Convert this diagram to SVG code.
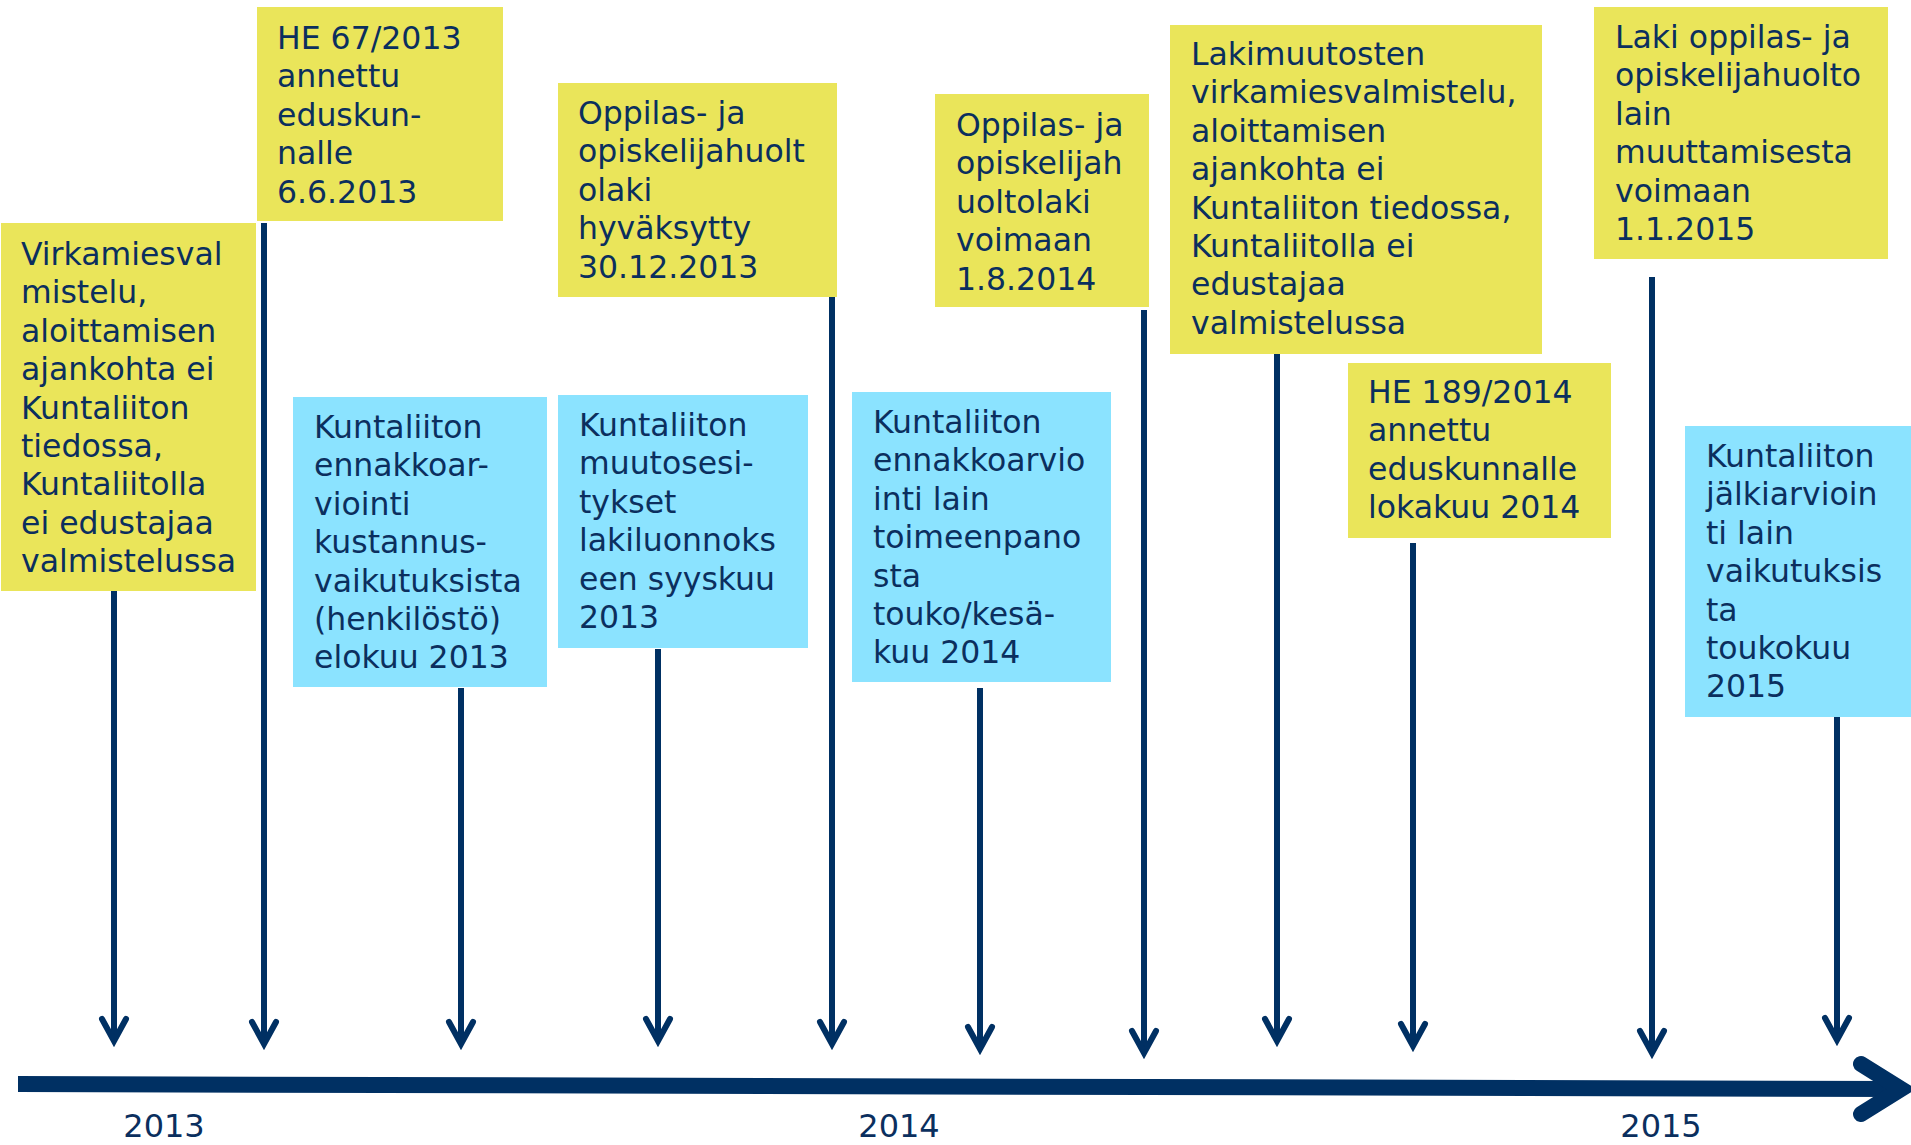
<svg xmlns="http://www.w3.org/2000/svg" width="1911" height="1145" viewBox="0 0 1911 1145">
<style>
.y{fill:#EAE55A}
.b{fill:#8BE3FF}
.t{font-family:"DejaVu Sans","Noto Sans",sans-serif;font-size:31.5px;fill:#0B2F5E}
.yr{font-family:"DejaVu Sans","Noto Sans",sans-serif;font-size:32px;fill:#0B2F5E;text-anchor:middle}
.c{stroke:#003063;stroke-width:6;fill:none;marker-end:url(#ah)}
</style>
<defs>
<marker id="ah" markerUnits="userSpaceOnUse" viewBox="-30 -20 40 40" markerWidth="40" markerHeight="40" refX="0" refY="0" orient="auto" overflow="visible">
<path d="M-22,-12 L0,0 L-22,12" fill="none" stroke="#003063" stroke-width="6" stroke-linecap="round" stroke-linejoin="miter"/>
</marker>
</defs>
<rect width="1911" height="1145" fill="#FFFFFF"/>

<g id="connectors">
<line class="c" x1="114" y1="591" x2="114" y2="1041"/>
<line class="c" x1="264" y1="223" x2="264" y2="1044"/>
<line class="c" x1="461" y1="688" x2="461" y2="1044"/>
<line class="c" x1="658" y1="649" x2="658" y2="1041"/>
<line class="c" x1="832" y1="297" x2="832" y2="1044"/>
<line class="c" x1="980" y1="688" x2="980" y2="1049"/>
<line class="c" x1="1144" y1="310" x2="1144" y2="1053"/>
<line class="c" x1="1277" y1="354" x2="1277" y2="1041"/>
<line class="c" x1="1413" y1="543" x2="1413" y2="1046"/>
<line class="c" x1="1652" y1="277" x2="1652" y2="1053"/>
<line class="c" x1="1837" y1="717" x2="1837" y2="1040"/>
</g>

<g id="timeline">
<line x1="18" y1="1084" x2="1900" y2="1089" stroke="#003063" stroke-width="16"/>
<polyline points="1861,1064 1901,1089 1861,1114" fill="none" stroke="#003063" stroke-width="16" stroke-linecap="round" stroke-linejoin="miter"/>
<text class="yr" x="164" y="1137">2013</text>
<text class="yr" x="899" y="1137">2014</text>
<text class="yr" x="1661" y="1137">2015</text>
</g>

<g id="n1">
<rect class="y" x="1" y="223" width="255" height="368"/>
<text class="t" y="265"><tspan x="21">Virkamiesval</tspan><tspan x="21" dy="38.4">mistelu,</tspan><tspan x="21" dy="38.4">aloittamisen</tspan><tspan x="21" dy="38.4">ajankohta ei</tspan><tspan x="21" dy="38.4">Kuntaliiton</tspan><tspan x="21" dy="38.4">tiedossa,</tspan><tspan x="21" dy="38.4">Kuntaliitolla</tspan><tspan x="21" dy="38.4">ei edustajaa</tspan><tspan x="21" dy="38.4">valmistelussa</tspan></text>
</g>

<g id="n2">
<rect class="y" x="257" y="7" width="246" height="214"/>
<text class="t" y="49"><tspan x="277">HE 67/2013</tspan><tspan x="277" dy="38.4">annettu</tspan><tspan x="277" dy="38.4">eduskun-</tspan><tspan x="277" dy="38.4">nalle</tspan><tspan x="277" dy="38.4">6.6.2013</tspan></text>
</g>

<g id="n3">
<rect class="b" x="293" y="397" width="254" height="290"/>
<text class="t" y="438"><tspan x="314">Kuntaliiton</tspan><tspan x="314" dy="38.4">ennakkoar-</tspan><tspan x="314" dy="38.4">viointi</tspan><tspan x="314" dy="38.4">kustannus-</tspan><tspan x="314" dy="38.4">vaikutuksista</tspan><tspan x="314" dy="38.4">(henkilöstö)</tspan><tspan x="314" dy="38.4">elokuu 2013</tspan></text>
</g>

<g id="n4">
<rect class="y" x="558" y="83" width="279" height="214"/>
<text class="t" y="124"><tspan x="578">Oppilas- ja</tspan><tspan x="578" dy="38.4">opiskelijahuolt</tspan><tspan x="578" dy="38.4">olaki</tspan><tspan x="578" dy="38.4">hyväksytty</tspan><tspan x="578" dy="38.4">30.12.2013</tspan></text>
</g>

<g id="n5">
<rect class="b" x="558" y="395" width="250" height="253"/>
<text class="t" y="436"><tspan x="579">Kuntaliiton</tspan><tspan x="579" dy="38.4">muutosesi-</tspan><tspan x="579" dy="38.4">tykset</tspan><tspan x="579" dy="38.4">lakiluonnoks</tspan><tspan x="579" dy="38.4">een syyskuu</tspan><tspan x="579" dy="38.4">2013</tspan></text>
</g>

<g id="n6">
<rect class="b" x="852" y="392" width="259" height="290"/>
<text class="t" y="433"><tspan x="873">Kuntaliiton</tspan><tspan x="873" dy="38.4">ennakkoarvio</tspan><tspan x="873" dy="38.4">inti lain</tspan><tspan x="873" dy="38.4">toimeenpano</tspan><tspan x="873" dy="38.4">sta</tspan><tspan x="873" dy="38.4">touko/kesä-</tspan><tspan x="873" dy="38.4">kuu 2014</tspan></text>
</g>

<g id="n7">
<rect class="y" x="935" y="94" width="214" height="213"/>
<text class="t" y="136"><tspan x="956">Oppilas- ja</tspan><tspan x="956" dy="38.4">opiskelijah</tspan><tspan x="956" dy="38.4">uoltolaki</tspan><tspan x="956" dy="38.4">voimaan</tspan><tspan x="956" dy="38.4">1.8.2014</tspan></text>
</g>

<g id="n8">
<rect class="y" x="1170" y="25" width="372" height="329"/>
<text class="t" y="65"><tspan x="1191">Lakimuutosten</tspan><tspan x="1191" dy="38.4">virkamiesvalmistelu,</tspan><tspan x="1191" dy="38.4">aloittamisen</tspan><tspan x="1191" dy="38.4">ajankohta ei</tspan><tspan x="1191" dy="38.4">Kuntaliiton tiedossa,</tspan><tspan x="1191" dy="38.4">Kuntaliitolla ei</tspan><tspan x="1191" dy="38.4">edustajaa</tspan><tspan x="1191" dy="38.4">valmistelussa</tspan></text>
</g>

<g id="n9">
<rect class="y" x="1348" y="363" width="263" height="175"/>
<text class="t" y="403"><tspan x="1368">HE 189/2014</tspan><tspan x="1368" dy="38.4">annettu</tspan><tspan x="1368" dy="38.4">eduskunnalle</tspan><tspan x="1368" dy="38.4">lokakuu 2014</tspan></text>
</g>

<g id="n10">
<rect class="y" x="1594" y="7" width="294" height="252"/>
<text class="t" y="48"><tspan x="1615">Laki oppilas- ja</tspan><tspan x="1615" dy="38.4">opiskelijahuolto</tspan><tspan x="1615" dy="38.4">lain</tspan><tspan x="1615" dy="38.4">muuttamisesta</tspan><tspan x="1615" dy="38.4">voimaan</tspan><tspan x="1615" dy="38.4">1.1.2015</tspan></text>
</g>

<g id="n11">
<rect class="b" x="1685" y="426" width="226" height="291"/>
<text class="t" y="467"><tspan x="1706">Kuntaliiton</tspan><tspan x="1706" dy="38.4">jälkiarvioin</tspan><tspan x="1706" dy="38.4">ti lain</tspan><tspan x="1706" dy="38.4">vaikutuksis</tspan><tspan x="1706" dy="38.4">ta</tspan><tspan x="1706" dy="38.4">toukokuu</tspan><tspan x="1706" dy="38.4">2015</tspan></text>
</g>
</svg>
